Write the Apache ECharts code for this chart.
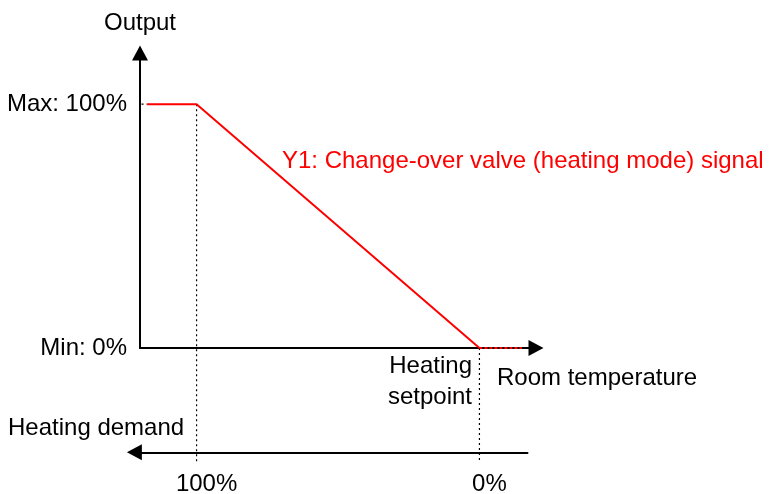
<!DOCTYPE html>
<html>
<head>
<meta charset="utf-8">
<script src="https://cdn.jsdelivr.net/npm/echarts@6/dist/echarts.min.js"></script>
<style>
  html, body { margin: 0; padding: 0; background: #fff; }
  #chart { width: 770px; height: 494px; }
</style>
</head>
<body>
<div id="chart"></div>
<script>
// x = heating demand in %, y = output in %
const outputLine = [[117.5, 100], [100, 100], [0, 0]]
const outputTail = [[0, 0], [-15, 0]]
const maxGuide = [[123, 100], [117.5, 100]]
const demandFullGuide = [[100, 100], [100, -47]]
const setpointGuide = [[0, 0], [0, -47]]
const yTicks = [0, 100]
const yTickLabels = { 0: 'Min: 0%', 100: 'Max: 100%' }
const demandTicks = [100, 0]

const FONT = "'Liberation Sans', Arial, sans-serif"
const chart = echarts.init(document.getElementById('chart'))

const dotted = (data, color, width, dash) => ({
  type: 'line',
  data: data,
  symbol: 'none',
  clip: false,
  silent: true,
  lineStyle: { color: color, width: width, type: dash }
})

chart.setOption({
  animation: false,
  textStyle: { fontFamily: FONT },
  grid: [
    { left: 140, width: 396, top: 53, height: 295 },
    { left: 134.4, width: 393.1, top: 452, height: 1 }
  ],
  xAxis: [
    {
      gridIndex: 0,
      type: 'value',
      min: -20,
      max: 120,
      inverse: true,
      axisLine: {
        show: true,
        onZero: false,
        symbol: ['none', 'triangle'],
        symbolSize: [16, 15],
        lineStyle: { color: '#000', width: 2 }
      },
      axisTick: { show: false },
      axisLabel: { show: false },
      splitLine: { show: false }
    },
    {
      gridIndex: 1,
      type: 'value',
      min: -17,
      max: 122,
      inverse: true,
      position: 'bottom',
      axisLine: {
        show: true,
        onZero: false,
        symbol: ['triangle', 'none'],
        symbolSize: [16, 15],
        lineStyle: { color: '#000', width: 2 }
      },
      axisTick: { show: false },
      axisLabel: {
        customValues: demandTicks,
        formatter: v => v + '%',
        color: '#000',
        fontSize: 24,
        fontFamily: FONT,
        margin: 20,
        padding: [0, 0, 0, 20]
      },
      splitLine: { show: false }
    }
  ],
  yAxis: [
    {
      gridIndex: 0,
      type: 'value',
      position: 'left',
      min: 0,
      max: 121,
      name: 'Output',
      nameLocation: 'end',
      nameGap: 18,
      nameTextStyle: { color: '#000', fontSize: 24, fontFamily: FONT },
      axisLine: {
        show: true,
        onZero: false,
        symbol: ['none', 'triangle'],
        symbolSize: [16, 15],
        lineStyle: { color: '#000', width: 2 }
      },
      axisTick: { show: false },
      axisLabel: {
        customValues: yTicks,
        formatter: v => yTickLabels[v],
        color: '#000',
        fontSize: 24,
        fontFamily: FONT,
        margin: 13
      },
      splitLine: { show: false }
    },
    { gridIndex: 1, type: 'value', show: false }
  ],
  series: [
    dotted(maxGuide, '#000', 1.2, [2, 3]),
    dotted(demandFullGuide, '#000', 1.2, [2, 3]),
    dotted(setpointGuide, '#000', 1.2, [2, 3]),
    {
      type: 'line',
      data: outputLine,
      symbol: 'none',
      clip: false,
      lineStyle: { color: '#ff0000', width: 2 }
    },
    dotted(outputTail, '#ff0000', 2, [3, 2])
  ],
  graphic: [
    {
      type: 'text', x: 282, y: 161,
      style: { text: 'Y1: Change-over valve (heating mode) signal', fill: '#ff0000', font: '24px ' + FONT, textVerticalAlign: 'middle' }
    },
    {
      type: 'text', x: 472, y: 382,
      style: { text: 'Heating\nsetpoint', fill: '#000', font: '24px ' + FONT, textAlign: 'right', textVerticalAlign: 'middle', lineHeight: 31 }
    },
    {
      type: 'text', x: 497, y: 378,
      style: { text: 'Room temperature', fill: '#000', font: '24px ' + FONT, textVerticalAlign: 'middle' }
    },
    {
      type: 'text', x: 8, y: 428,
      style: { text: 'Heating demand', fill: '#000', font: '24px ' + FONT, textVerticalAlign: 'middle' }
    }
  ]
})
</script>
</body>
</html>
